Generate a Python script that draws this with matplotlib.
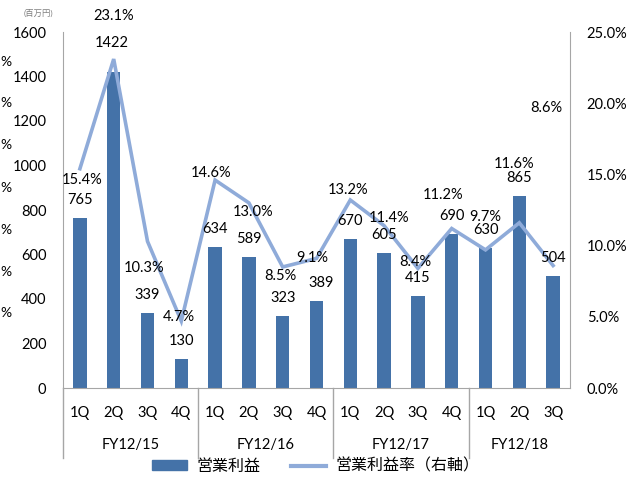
import matplotlib
matplotlib.use('Agg')
import matplotlib.pyplot as plt
from matplotlib.lines import Line2D
from matplotlib.patches import Patch
import matplotlib.transforms as mtransforms

plt.rcParams['font.family'] = ['Lato', 'Noto Sans CJK JP', 'DejaVu Sans']

quarters = ['1Q', '2Q', '3Q', '4Q', '1Q', '2Q', '3Q', '4Q',
            '1Q', '2Q', '3Q', '4Q', '1Q', '2Q', '3Q']
years = ['FY12/15', 'FY12/16', 'FY12/17', 'FY12/18']
year_sizes = [4, 4, 4, 3]
profit = [765, 1422, 339, 130, 634, 589, 323, 389, 670, 605, 415, 690, 630, 865, 504]
margin = [15.4, 23.1, 10.3, 4.7, 14.6, 13.0, 8.5, 9.1, 13.2, 11.4, 8.4, 11.2, 9.7, 11.6, 8.6]

# label offsets in pixels (dx, dy up)
bar_off = [(0, 18)] * 15
bar_off[1] = (-2, 29)
bar_off[7] = (5, 18)
pct_off = [(2, -11), (0, 43), (-3, -27), (-2, 4), (-4, 7), (4, -9), (-2, -9), (-4, 0),
           (-2, 10), (5, 8), (-3, 6), (-9, 34), (0, 33), (-5, 59), (-7, 158)]

bar_color = '#4472A8'
line_color = '#8FABD9'
grey = '#A6A6A6'
px = 0.72  # points per pixel at dpi 100

fig = plt.figure(figsize=(6.43, 4.80), dpi=100)
ax = fig.add_axes([63/643, 92/480, 507/643, 356/480])
x = list(range(len(profit)))
ax.bar(x, profit, width=0.4, color=bar_color, zorder=2)
ax.set_xlim(-0.5, 14.5)
ax.set_ylim(0, 1600)
ax.set_yticks(range(0, 1601, 200))
ax.tick_params(axis='y', length=0, pad=12, labelsize=10.5)
ax.set_xticks(x)
ax.set_xticklabels(quarters)
ax.tick_params(axis='x', length=0, pad=13, labelsize=10.5)
for s in ['top', 'right']:
    ax.spines[s].set_visible(False)
for s in ['left', 'bottom']:
    ax.spines[s].set_color(grey)

ax2 = ax.twinx()
ax2.plot(x, margin, color=line_color, lw=2.6, solid_joinstyle='miter', zorder=3)
ax2.set_ylim(0, 25)
ax2.set_yticks([0, 5, 10, 15, 20, 25])
ax2.set_yticklabels(['%.1f%%' % v for v in [0, 5, 10, 15, 20, 25]])
ax2.tick_params(axis='y', length=0, pad=12, labelsize=10.5)
for s in ['top', 'left', 'bottom']:
    ax2.spines[s].set_visible(False)
ax2.spines['right'].set_color(grey)

for i, v in enumerate(profit):
    dx, dy = bar_off[i]
    ax2.annotate(str(v), xy=(i, v), xycoords=ax.transData,
                 xytext=(dx*px, dy*px), textcoords='offset points',
                 ha='center', va='center', fontsize=10.5, zorder=5,
                 annotation_clip=False)
for i, v in enumerate(margin):
    dx, dy = pct_off[i]
    ax2.annotate('%.1f%%' % v, xy=(i, v), xytext=(dx*px, dy*px),
                 textcoords='offset points', ha='center', va='center',
                 fontsize=10.5, zorder=5, annotation_clip=False)

# fiscal year groups under the quarter labels
trans = mtransforms.blended_transform_factory(ax.transData, ax.transAxes)
start = 0
for name, n in zip(years, year_sizes):
    ax.plot([start - 0.5, start - 0.5], [0, -0.197], transform=trans,
            color=grey, lw=1, clip_on=False)
    ax.text(start + (n - 1)/2, -0.16, name, transform=trans,
            ha='center', va='center', fontsize=10.5)
    start += n

fig.text(38/643, 1 - 13/480, '(百万円)', ha='center', va='center',
         fontsize=6, color='#7F7F7F')

# leftovers at the left edge of the slide
for yy in [62, 103, 145, 188, 230, 272, 313]:
    fig.text(0, 1 - yy/480, '%', ha='left', va='center', fontsize=10)

handles = [Patch(color=bar_color), Line2D([0], [0], color=line_color, lw=3)]
fig.legend(handles, ['営業利益', '営業利益率（右軸）'], ncol=2, frameon=False,
           loc='center', bbox_to_anchor=(316/643, 1 - 466/480),
           fontsize=11.5, handlelength=2.2, handleheight=0.5,
           columnspacing=1.9, handletextpad=0.6)

fig.savefig('out.png', dpi=100)
